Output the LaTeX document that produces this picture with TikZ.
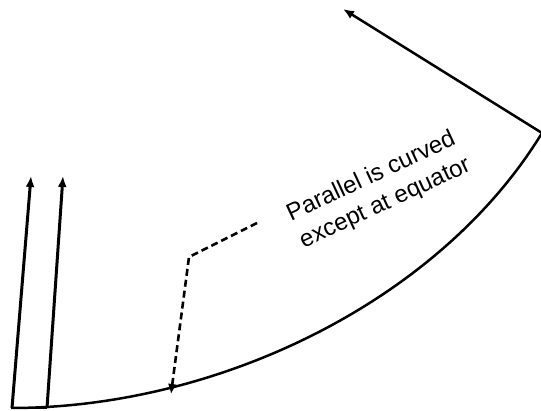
\documentclass[tikz,border=0pt]{standalone}
\usepackage{fontspec}
\setmainfont{Liberation Sans}
\usetikzlibrary{arrows.meta}

\begin{document}
\begin{tikzpicture}[x=1pt, y=-1pt]
        \useasboundingbox (0,0) rectangle (541,411);

        % outline of the projected sheet
        \coordinate (bl) at (11,408);
        \coordinate (br) at (542,133);
        \coordinate (tip) at (343,9);
        \draw[line width=2.5pt] (bl) .. controls (220,408) and (440,300) .. (br);
        \draw[line width=2.5pt, -{Latex[length=11pt,width=9pt]}] (br) -- (tip);

        % meridians
        \coordinate (m1s) at (12,408);
        \coordinate (m1e) at (31,176);
        \coordinate (m2s) at (47,408);
        \coordinate (m2e) at (63,176);
        \draw[line width=3pt, -{Latex[length=11pt,width=9pt]}] (m1s) -- (m1e);
        \draw[line width=3pt, -{Latex[length=11pt,width=9pt]}] (m2s) -- (m2e);
        \draw[line width=2.5pt] (m1s) -- (m2s);

        % label and leader
        \node[rotate=25, align=left, font=\fontsize{24}{30}\selectfont] (lbl) at (379,190)
          {Parallel is curved\\except at equator};
        \coordinate (lead) at (257,223);
        \coordinate (knee) at (189,257);
        \coordinate (hit) at (171,394);
        \draw[line width=2.6pt, dash pattern=on 7pt off 4pt, -{Latex[length=10pt,width=9pt]}]
          (lead) -- (knee) -- (hit);
      \end{tikzpicture}
\end{document}
